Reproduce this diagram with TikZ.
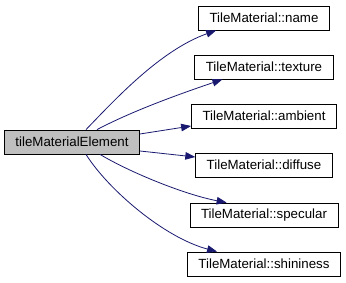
\documentclass[tikz,border=0pt]{standalone}
\usepackage{fontspec}
\setmainfont{Liberation Sans}
\usepackage{xcolor}
\usetikzlibrary{arrows.meta}
\definecolor{callblue}{HTML}{191970}

\begin{document}
\begin{tikzpicture}[x=1pt,y=-1pt,
    fn/.style={draw,line width=0.8pt,minimum height=24pt,inner xsep=11pt,
      inner ysep=0pt,font=\fontsize{13.3}{15}\selectfont},
    caller/.style={fn,fill=black!25},
    call/.style={draw=callblue,line width=0.8pt,
      -{Triangle[length=10pt,width=7.5pt]}}]
    \useasboundingbox (0,0) rectangle (346,283);

    \node[caller] (elem) at (72,142) {tileMaterialElement};
    \foreach \fld/\y in {name/18,texture/67,ambient/116,diffuse/165,
      specular/215,shininess/264}
      \node[fn] (\fld) at (264,\y) {TileMaterial::\fld};

    % calls leaving the top and the side of the caller
    \draw[call] ([xshift=14pt]elem.north) .. controls +(29,-30) and +(-56,20) ..
      ([xshift=18pt]name.south west);
    \draw[call] ([xshift=25pt]elem.north) .. controls +(38,-20) and +(-38,13) ..
      ([xshift=28pt]texture.south west);
    \draw[call] ([yshift=8pt]elem.east) -- ([yshift=-10pt]ambient.west);
    \draw[call] ([yshift=-9pt]elem.east) -- ([yshift=8pt]diffuse.west);
    % calls leaving the bottom
    \draw[call] ([xshift=28pt]elem.south) .. controls +(30,18) and +(-42,-8) ..
      ([xshift=37pt]specular.north west);
    \draw[call] ([xshift=14pt]elem.south) .. controls +(22,35) and +(-53,-14) ..
      ([xshift=30pt]shininess.north west);
\end{tikzpicture}
\end{document}
